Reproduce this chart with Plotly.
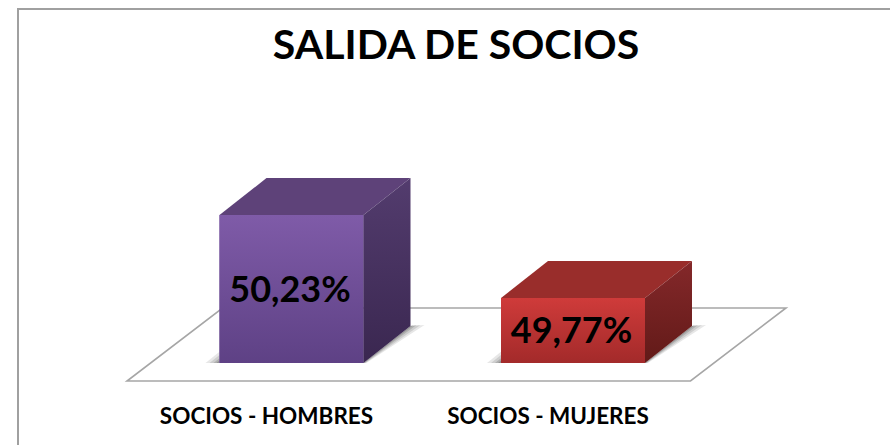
import plotly.graph_objects as go

# Data
categories = ["SOCIOS - HOMBRES", "SOCIOS - MUJERES"]
values = [50.23, 49.77]
labels = ["50,23%", "49,77%"]
title_text = "SALIDA DE SOCIOS"
positions = [0, 1]

# Axis frame
W, H, BOTTOM = 890, 445, 45
PLOT_H = H - BOTTOM
PX_X = 281.5      # pixels per category
PX_Y = 180.4      # pixels per percentage point
BASE = 49.41      # truncated axis baseline
X0_PX = 266.5     # pixel of first category
BASE_PX = 363
x_range = [-X0_PX / PX_X, (W - X0_PX) / PX_X]
y_range = [BASE - (PLOT_H - BASE_PX) / PX_Y, BASE + BASE_PX / PX_Y]

# 3D look, sizes in axis units
BAR_W = 144 / PX_X
BAR_OFF = (219.5 - X0_PX) / PX_X
DX = 47 / PX_X
DY = 37 / PX_Y

bar_colors = ["#6F4F98", "#B93433"]
front_grad = [["#5E4185", "#7F5BA8"], ["#A32A2A", "#CF3B3A"]]
top_colors = ["#5E4279", "#992D2B"]
side_grad = [["#3A2750", "#533C6E"], ["#621A18", "#84282A"]]
GRID = "#A6A6A6"


def path(pts):
    return "M " + " L ".join(f"{x:.5f} {y:.5f}" for x, y in pts) + " Z"


shapes = []
# floor
fl = x_range[0] + 127 / PX_X
fr = x_range[0] + 690.5 / PX_X
fy = BASE - 18 / PX_Y
fdx = 95.5 / PX_X
fdy = 73 / PX_Y
shapes.append(dict(type="path", xref="x", yref="y", layer="below",
                   path=path([(fl, fy), (fr, fy), (fr + fdx, fy + fdy), (fl + fdx, fy + fdy)]),
                   line=dict(color=GRID, width=1.6), fillcolor="rgba(255,255,255,0)"))
# soft shadows
for i in positions:
    left = i + BAR_OFF
    right = left + BAR_W
    for grow, alpha in [(14, 0.12), (10, 0.15), (6, 0.20), (3, 0.25)]:
        g = grow / PX_X
        shapes.append(dict(type="path", xref="x", yref="y", layer="below",
                           path=path([(left - g, BASE), (left, BASE),
                                      (left, BASE + grow * 0.8 / PX_Y)]),
                           line=dict(width=0), fillcolor=f"rgba(60,60,60,{alpha})"))
        shapes.append(dict(type="path", xref="x", yref="y", layer="below",
                           path=path([(right, BASE), (right + DX, BASE + DY),
                                      (right + DX + g, BASE + DY + 1 / PX_Y),
                                      (right + g * 0.2, BASE)]),
                           line=dict(width=0), fillcolor=f"rgba(60,60,60,{alpha})"))
# outer frame
shapes.append(dict(type="rect", xref="paper", yref="paper", layer="below",
                   x0=18 / W, x1=1.02, y0=-0.3, y1=(PLOT_H - 9) / PLOT_H,
                   line=dict(color="#A0A0A0", width=2)))

fig = go.Figure()
# front faces
fig.add_trace(go.Bar(x=positions, y=[v - BASE for v in values], base=BASE,
                     width=BAR_W, offset=BAR_OFF, marker=dict(color=bar_colors, line=dict(width=0)),
                     hoverinfo="skip", showlegend=False))

for i, v in zip(positions, values):
    left = i + BAR_OFF
    right = left + BAR_W
    # front gradient
    fig.add_trace(go.Scatter(x=[left, right, right, left, left], y=[BASE, BASE, v, v, BASE],
                             mode="lines", line=dict(width=0), fill="toself",
                             fillgradient=dict(type="vertical",
                                               colorscale=[[0, front_grad[i][0]], [1, front_grad[i][1]]]),
                             hoverinfo="skip", showlegend=False))
    # top face
    fig.add_trace(go.Scatter(x=[left, right, right + DX, left + DX, left], y=[v, v, v + DY, v + DY, v],
                             mode="lines", line=dict(width=0), fill="toself",
                             fillcolor=top_colors[i], hoverinfo="skip", showlegend=False))
    # side face
    fig.add_trace(go.Scatter(x=[right, right + DX, right + DX, right, right],
                             y=[BASE, BASE + DY, v + DY, v, BASE],
                             mode="lines", line=dict(width=0), fill="toself",
                             fillgradient=dict(type="vertical",
                                               colorscale=[[0, side_grad[i][0]], [1, side_grad[i][1]]]),
                             hoverinfo="skip", showlegend=False))

# value labels
fig.add_trace(go.Scatter(x=[i + BAR_OFF + BAR_W / 2 - 1.5 / PX_X for i in positions],
                         y=[(v + BASE) / 2 - 3.5 / PX_Y for v in values],
                         mode="text", text=labels,
                         textfont=dict(family="Lato", size=36, color="#000000", weight="bold"),
                         hoverinfo="skip", showlegend=False))

fig.update_layout(
    width=W, height=H,
    margin=dict(l=0, r=0, t=0, b=BOTTOM),
    paper_bgcolor="#FFFFFF", plot_bgcolor="rgba(0,0,0,0)",
    showlegend=False,
    title=dict(text=f"<b>{title_text}</b>", x=456 / W, xanchor="center",
               y=1 - 45 / H, yanchor="middle",
               font=dict(family="Lato", size=41, color="#000000")),
    shapes=shapes,
    xaxis=dict(range=x_range, tickmode="array", tickvals=positions, ticktext=categories,
               showgrid=False, zeroline=False, showline=False, ticks="",
               tickfont=dict(family="Lato", size=22.5, color="#000000", weight="bold")),
    yaxis=dict(range=y_range, visible=False, showgrid=False, zeroline=False),
)

fig.write_html("out.html", config=dict(displayModeBar=False),
               post_script="document.body.style.margin='0';document.documentElement.style.overflow='hidden';")
